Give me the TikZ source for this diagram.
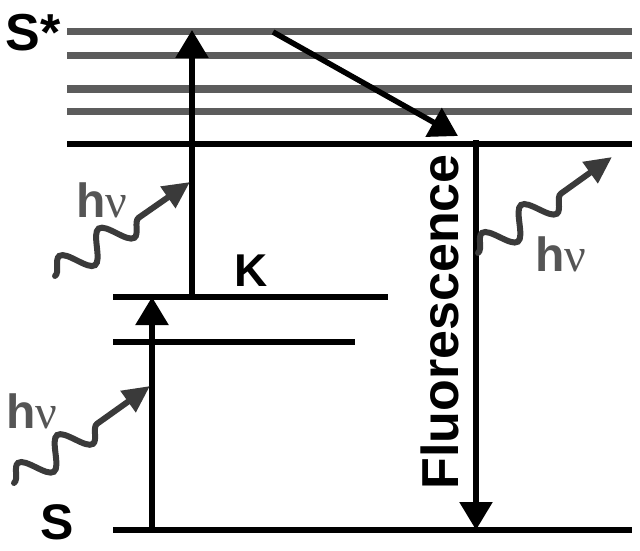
\documentclass[tikz,border=0pt]{standalone}
\usepackage{fontspec}
\setmainfont{Liberation Sans}
\newfontfamily\serifnu{Liberation Serif}
\usetikzlibrary{arrows.meta,decorations.pathmorphing}
\definecolor{levelgray}{HTML}{5C5C5C}
\definecolor{wavegray}{HTML}{3A3A3A}
\definecolor{textgray}{HTML}{555555}
\begin{document}
\begin{tikzpicture}[x=1pt,y=-1pt,
  gl/.style={line width=7pt, draw=levelgray},
  bl/.style={line width=6.5pt, draw=black},
  tr/.style={line width=5.5pt, -{Triangle[length=28pt,width=32pt]}},
  wave/.style={line width=6pt, draw=wavegray, line cap=round, decorate,
     decoration={snake, amplitude=14pt, segment length=48pt, pre length=0pt, post length=46pt},
     -{Triangle[length=27pt,width=25pt]}},
  lab/.style={font=\bfseries\fontsize{52}{52}\selectfont, inner sep=0pt},
  hv/.style={font=\bfseries\fontsize{48}{48}\selectfont, text=textgray, inner sep=0pt}
]
\useasboundingbox (0,0) rectangle (640,551);
% excited vibrational levels
\foreach \yy/\nm in {32/a,56/b,89/c,111/d}{
  \coordinate (L\nm) at (67,\yy);
  \coordinate (R\nm) at (632,\yy);
  \draw[gl] (L\nm) -- (R\nm);
}
\coordinate (Le) at (67,144); \coordinate (Re) at (632,144);
\draw[bl] (Le) -- (Re);
\coordinate (Lk) at (113,297); \coordinate (Rk) at (388,297);
\draw[bl] (Lk) -- (Rk);
\coordinate (Ll) at (113,342); \coordinate (Rl) at (355,342);
\draw[bl] (Ll) -- (Rl);
\coordinate (Ls) at (113,530); \coordinate (Rs) at (632,530);
\draw[bl] (Ls) -- (Rs);
% labels
\node[lab] (Sstar) at (33,33) {S*};
\node[lab, font=\bfseries\fontsize{46}{46}\selectfont] (K) at (251,271) {K};
\node[lab, font=\bfseries\fontsize{50}{50}\selectfont] (S) at (57,522) {S};
\node[font=\bfseries\fontsize{52}{52}\selectfont, rotate=90, inner sep=0pt] (fl) at (440,322) {Fluorescence};
% transitions
\coordinate (a1) at (192,297); \coordinate (a2) at (192,30);
\draw[tr] (a1) -- (a2);
\coordinate (b1) at (152,530); \coordinate (b2) at (152,297);
\draw[tr] (b1) -- (b2);
\coordinate (d1) at (273,32); \coordinate (d2) at (458,136);
\draw[tr] (d1) -- (d2);
\coordinate (f1) at (476,140); \coordinate (f2) at (476,530);
\draw[tr] (f1) -- (f2);
% photons
\coordinate (w1s) at (55,276); \coordinate (w1e) at (190,182);
\draw[wave] (w1s) -- (w1e);
\coordinate (w2s) at (14,483); \coordinate (w2e) at (150,386);
\draw[wave] (w2s) -- (w2e);
\coordinate (w3s) at (478,253); \coordinate (w3e) at (612,157);
\draw[wave] (w3s) -- (w3e);
\node[hv] (hv1) at (102,200) {h{\mdseries\serifnu ν}};
\node[hv] (hv2) at (32,411) {h{\mdseries\serifnu ν}};
\node[hv] (hv3) at (561,254) {h{\mdseries\serifnu ν}};
\end{tikzpicture}
\end{document}
